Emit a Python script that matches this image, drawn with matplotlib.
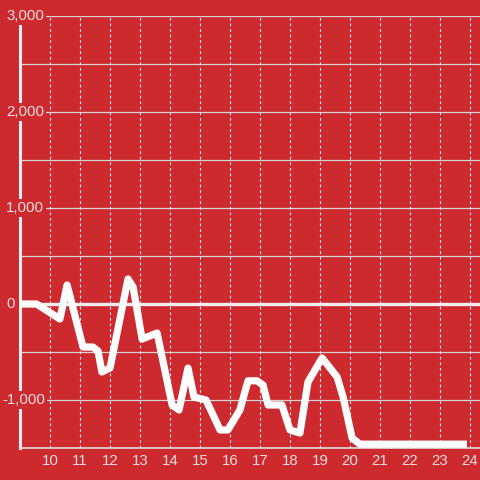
import matplotlib
matplotlib.use("Agg")
import matplotlib.pyplot as plt
import matplotlib.transforms as mtransforms

# ---- data ----
x_vals = [9.0, 9.55, 10.33, 10.57, 11.1, 11.43, 11.6, 11.73, 12.0,
          12.6, 12.77, 13.07, 13.57, 14.07, 14.3, 14.6, 14.8, 15.2,
          15.67, 15.93, 16.33, 16.6, 16.9, 17.1, 17.27, 17.73, 18.0,
          18.33, 18.6, 19.07, 19.57, 19.77, 20.07, 20.33, 23.9]
y_vals = [0, 0, -156, 198, -448, -448, -490, -708, -667,
          260, 177, -365, -302, -1052, -1104, -667, -969, -1000,
          -1312, -1312, -1104, -800, -800, -844, -1052, -1052, -1312,
          -1344, -812, -562, -760, -969, -1396, -1460, -1460]

x_ticks = list(range(10, 25))
x_tick_labels = [str(t) for t in x_ticks]
y_grid = [-1500, -1000, -500, 500, 1000, 1500, 2000, 2500, 3000]
y_ticks = [-1000, 0, 1000, 2000, 3000]
y_tick_labels = ["-1,000", "0", "1,000", "2,000", "3,000"]

BG = "#cc2a2f"
TXT = "#f5dcdc"
FONT = "Liberation Sans"

fig = plt.figure(figsize=(4.8, 4.8), dpi=100, facecolor=BG)
ax = fig.add_axes([20/480, 32/480, 460/480, 432/480])
ax.set_facecolor(BG)
ax.set_xlim(9, 9 + 460/30)
ax.set_ylim(-1500, 3000)

# grid lines
for g in y_grid:
    ax.axhline(g, color="#d4d4d4", lw=0.9, zorder=1)
for t in x_ticks:
    ax.axvline(t, color="#e6e6e6", lw=0.8, linestyle=(0, (2.5, 2.5)), zorder=1)
ax.axhline(0, color="#eeeeee", lw=2.4, zorder=2)

# data line
ax.plot(x_vals, y_vals, color="white", lw=5.2, zorder=3,
        solid_joinstyle="round", solid_capstyle="butt")

# spines
for s in ["top", "right"]:
    ax.spines[s].set_visible(False)
ax.spines["left"].set_color("#eeeeee")
ax.spines["left"].set_linewidth(2.2)
ax.spines["bottom"].set_color("#dddddd")
ax.spines["bottom"].set_linewidth(1.2)

# x ticks
ax.set_xticks(x_ticks)
ax.set_xticklabels(x_tick_labels, fontsize=10.8, color=TXT, family=FONT)
ax.tick_params(axis="x", length=0, pad=4)
ax.set_yticks([])

# y tick labels drawn as text with background boxes
trans = mtransforms.blended_transform_factory(fig.transFigure, ax.transData)
for v, lab in zip(y_ticks, y_tick_labels):
    xpx = 2 if lab.startswith("-") else 6
    ax.text(xpx/480, v, lab, transform=trans, ha="left", va="center",
            fontsize=10.8, color=TXT, family=FONT, zorder=6, clip_on=False,
            bbox=dict(facecolor=BG, edgecolor="none", pad=1.5))

fig.savefig("out.png", dpi=100, facecolor=BG)
